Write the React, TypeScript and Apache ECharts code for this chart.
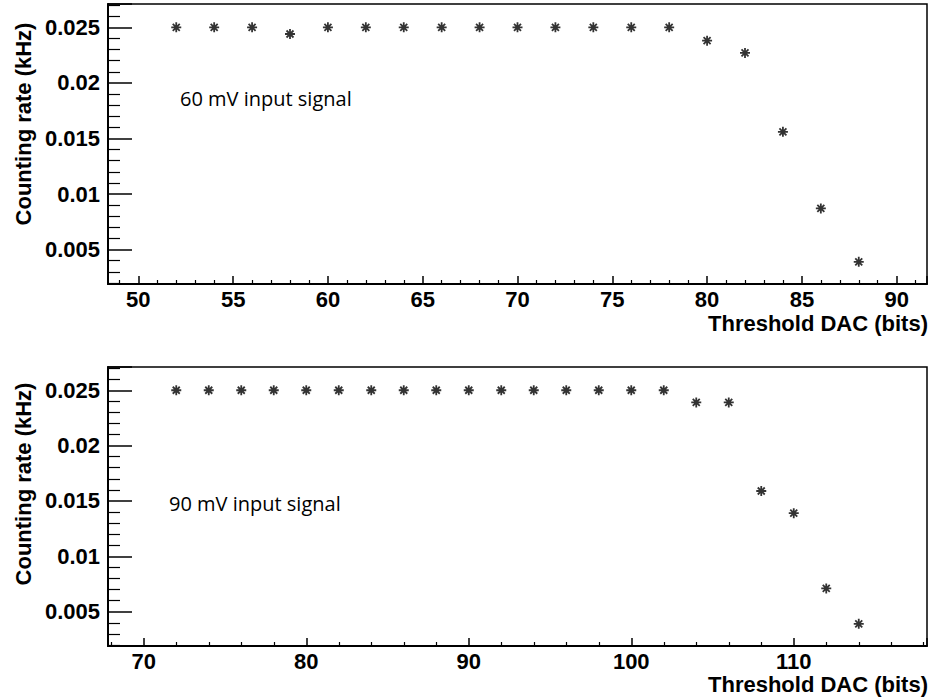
import React, { useEffect, useRef } from "react";
import * as echarts from "echarts";

const thresholds60 = [52, 54, 56, 58, 60, 62, 64, 66, 68, 70, 72, 74, 76, 78, 80, 82, 84, 86, 88];
const rate60 = [0.025, 0.025, 0.025, 0.0244, 0.025, 0.025, 0.025, 0.025, 0.025, 0.025, 0.025, 0.025, 0.025, 0.025, 0.0238, 0.0227, 0.0156, 0.0087, 0.0039];

const thresholds90 = [72, 74, 76, 78, 80, 82, 84, 86, 88, 90, 92, 94, 96, 98, 100, 102, 104, 106, 108, 110, 112, 114];
const rate90 = [0.025, 0.025, 0.025, 0.025, 0.025, 0.025, 0.025, 0.025, 0.025, 0.025, 0.025, 0.025, 0.025, 0.025, 0.025, 0.025, 0.0239, 0.0239, 0.0159, 0.0139, 0.0071, 0.0039];

const yTitle = "Counting rate (kHz)";
const xTitle = "Threshold DAC (bits)";
const note60 = "60 mV input signal";
const note90 = "90 mV input signal";

const BOLD = "Liberation Sans";
const STAR = "path://M0,4L8,4M4,0L4,8M1.2,1.2L6.8,6.8M6.8,1.2L1.2,6.8";

function fmtX(step: number) {
  return (v: number) => {
    const r = Math.round(v / step) * step;
    return Math.abs(r - v) < 1e-6 ? String(Math.round(v)) : "";
  };
}
function fmtY(v: number) {
  const r = Math.round(v / 0.005) * 0.005;
  if (Math.abs(r - v) > 1e-7) return "";
  return String(parseFloat(r.toFixed(4)));
}

export default function App() {
  const ref = useRef<HTMLDivElement>(null);
  useEffect(() => {
    if (!ref.current) return;
    const chart = echarts.init(ref.current, null, { renderer: "svg" });
    const labelStyle = {
      fontFamily: BOLD,
      fontWeight: "bold" as const,
      fontSize: 22,
      lineHeight: 18,
      color: "#000",
    };
    const xAxisBase = (min: number, max: number, step: number, gridIndex: number) => ({
      type: "value" as const,
      gridIndex,
      min,
      max,
      minInterval: step,
      maxInterval: step,
      axisLine: { show: true, onZero: false, lineStyle: { color: "#000", width: 2 } },
      axisTick: { show: true, inside: true, length: 8, lineStyle: { color: "#000", width: 1.5 } },
      minorTick: { show: true, splitNumber: 5, length: 4, lineStyle: { color: "#000", width: 1.2 } },
      splitLine: { show: false },
      axisLabel: { ...labelStyle, margin: 6, formatter: fmtX(step), showMinLabel: false, showMaxLabel: false },
    });
    const yAxisBase = (gridIndex: number) => ({
      type: "value" as const,
      gridIndex,
      min: 0.0019,
      max: 0.0271,
      minInterval: 0.005,
      maxInterval: 0.005,
      axisLine: { show: true, onZero: false, lineStyle: { color: "#000", width: 2 } },
      axisTick: { show: true, inside: true, length: 24, lineStyle: { color: "#000", width: 1.5 } },
      minorTick: { show: true, splitNumber: 5, length: 12, lineStyle: { color: "#000", width: 1.2 } },
      splitLine: { show: false },
      axisLabel: { ...labelStyle, margin: 8, formatter: fmtY, showMinLabel: false, showMaxLabel: false },
    });
    const scatter = (xs: number[], ys: number[], idx: number) => ({
      type: "scatter" as const,
      xAxisIndex: idx,
      yAxisIndex: idx,
      symbol: STAR,
      symbolSize: 10,
      itemStyle: { color: "transparent", borderColor: "#000", borderWidth: 1.8 },
      data: xs.map((x, i) => [x, ys[i]]),
    });
    const text = (t: string, x: number, y: number, opts: any) => ({
      type: "text" as const,
      x,
      y,
      rotation: opts.rotation || 0,
      style: {
        text: t,
        fill: "#000",
        font: opts.font,
        textAlign: opts.align || "left",
        textVerticalAlign: "middle",
      },
    });
    const titleFont = `bold 22px "${BOLD}"`;
    const noteFont = `20px "Open Sans"`;
    chart.setOption({
      animation: false,
      backgroundColor: "#fff",
      grid: [
        { left: 108, top: 4, width: 819, height: 280, show: true, borderColor: "#000", borderWidth: 1.5, backgroundColor: "transparent" },
        { left: 108, top: 367, width: 819, height: 279, show: true, borderColor: "#000", borderWidth: 1.5, backgroundColor: "transparent" },
      ],
      xAxis: [xAxisBase(48.4, 91.6, 5, 0), xAxisBase(67.8, 118.2, 10, 1)],
      yAxis: [yAxisBase(0), yAxisBase(1)],
      series: [scatter(thresholds60, rate60, 0), scatter(thresholds90, rate90, 1)],
      graphic: [
        text(yTitle, 23, 124, { font: titleFont, rotation: Math.PI / 2, align: "center" }),
        text(yTitle, 23, 484, { font: titleFont, rotation: Math.PI / 2, align: "center" }),
        text(xTitle, 928, 323, { font: titleFont, align: "right" }),
        text(xTitle, 928, 684, { font: titleFont, align: "right" }),
        text(note60, 180, 98, { font: noteFont }),
        text(note90, 169, 503, { font: noteFont }),
      ],
    });
    return () => chart.dispose();
  }, []);
  return (
    <div
      ref={ref}
      style={{ position: "absolute", left: 0, top: 0, width: 934, height: 700 }}
    />
  );
}
